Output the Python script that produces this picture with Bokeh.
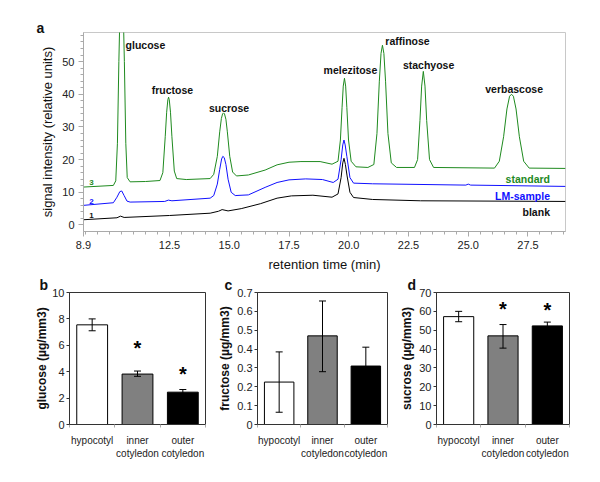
from bokeh.plotting import figure
from bokeh.layouts import column, row
from bokeh.models import (ColumnDataSource, FixedTicker, Label, Whisker, TeeHead,
                          NumeralTickFormatter, Range1d, Title)
from bokeh.core.properties import value
from bokeh.embed import file_html
from bokeh.resources import INLINE

FONT = "Liberation Sans"

# ---------------- panel a: chromatograms ----------------
std_t = [8.90, 10.15, 10.25, 10.32, 10.38, 10.44, 10.49, 10.55, 10.61, 10.67, 10.73, 10.85,
         11.5, 12.10, 12.22, 12.32, 12.38, 12.43, 12.46, 12.49, 12.54, 12.60, 12.70, 12.80, 13.2,
         14.2, 14.35, 14.50, 14.60, 14.67, 14.72, 14.76, 14.80, 14.86, 14.92, 15.02, 15.14,
         15.30, 15.8, 16.5, 17.0, 17.5, 18.0, 18.8, 19.3, 19.55, 19.65, 19.72, 19.77, 19.82,
         19.87, 19.92, 19.99, 20.10, 20.30, 20.8, 21.05, 21.18, 21.28, 21.35, 21.41, 21.47,
         21.54, 21.64, 21.78, 22.0, 22.75, 22.88, 22.98, 23.05, 23.12, 23.19, 23.26, 23.38,
         23.55, 26.1, 26.30, 26.48, 26.62, 26.73, 26.81, 26.89, 27.00, 27.14, 27.32, 27.55, 29.07]
std_y = [11.6, 12.1, 13.5, 25, 50, 70, 76, 70, 50, 25, 14.5, 13.2,
         13.3, 13.6, 16, 27, 34.5, 38.3, 39.1, 38.3, 34.5, 27, 16.5, 14.2, 13.9,
         14.2, 15.5, 21, 28.5, 32.6, 34.0, 34.3, 34.0, 32.3, 28.5, 21, 16.2,
         15.0, 15.3, 16.8, 18.4, 19.2, 19.4, 19.4, 18.6, 19.5, 26, 36, 42.5, 44.9,
         42.5, 36, 26, 19.5, 17.8, 17.6, 18.5, 28, 44, 52.5, 55, 52.5,
         44, 28, 19, 17.6, 17.6, 20, 32, 42.5, 47, 42.5, 32, 20,
         17.6, 17.4, 19.5, 27, 35.5, 39.4, 40, 39.4, 35.5, 27, 19.5, 17.4, 17.3]

lm_t = [8.90, 10.15, 10.30, 10.42, 10.50, 10.60, 10.72, 10.85, 12.3, 12.45, 12.6, 14.2,
        14.35, 14.50, 14.60, 14.68, 14.73, 14.79, 14.86, 14.95, 15.08, 15.25, 15.8, 16.5,
        17.0, 17.5, 18.2, 18.9, 19.35, 19.55, 19.68, 19.75, 19.80, 19.85, 19.92, 20.05,
        20.20, 21.0, 24.9, 25.0, 25.1, 29.07]
lm_y = [6.0, 6.8, 8.5, 10.2, 10.4, 9.0, 7.3, 7.0, 7.2, 7.6, 7.4, 8.2,
        9.0, 12.5, 17.0, 20.2, 21.0, 20.6, 18.5, 14, 10.0, 9.0, 9.2, 11.5,
        13.0, 13.8, 14.1, 13.9, 13.0, 14.0, 20, 24.5, 26.0, 24.5, 21, 14.5,
        12.8, 12.6, 12.2, 12.5, 12.2, 11.8]

blank_t = [8.90, 10.3, 10.45, 10.6, 12.5, 14.2, 14.55, 14.7, 14.95, 15.5, 16.3, 17.0,
           17.6, 18.5, 19.3, 19.55, 19.68, 19.75, 19.80, 19.86, 19.93, 20.05, 20.20, 21.0,
           23.0, 29.07]
blank_y = [1.6, 2.2, 2.7, 2.3, 2.9, 3.6, 4.2, 4.7, 4.3, 5.0, 6.5, 8.2,
           8.9, 9.1, 8.5, 9.5, 14.5, 19.0, 20.4, 18.5, 15, 10, 8.4, 7.8,
           7.4, 7.2]

peak_names = ["glucose", "fructose", "sucrose", "melezitose", "raffinose", "stachyose", "verbascose"]
xtick_vals = [8.9, 12.5, 15.0, 17.5, 20.0, 22.5, 25.0, 27.5]
ytick_vals = [0, 10, 20, 30, 40, 50]

# ---------------- panels b-d: bar charts ----------------
categories = ["hypocotyl", "inner\ncotyledon", "outer\ncotyledon"]
bar_colors = ["white", "#808080", "black"]
glucose = [7.55, 3.82, 2.45]
glucose_lo = [7.1, 3.65, 2.25]
glucose_hi = [8.0, 4.05, 2.65]
glucose_star = [None, 5.8, 3.85]
fructose = [0.225, 0.47, 0.31]
fructose_lo = [0.065, 0.28, 0.21]
fructose_hi = [0.385, 0.655, 0.41]
sucrose = [57.2, 47.0, 52.3]
sucrose_lo = [54.5, 40.5, 50.5]
sucrose_hi = [60.0, 53.0, 54.3]
sucrose_star = [None, 61.5, 60.5]

GREEN = "#1f8a1f"
BLUE = "#1010ff"


def panel_letter(p, letter, offset, standoff):
    p.add_layout(Title(text=letter, align="left", offset=offset, standoff=standoff,
                       text_font=FONT, text_font_size="14px", text_font_style="bold",
                       text_color="#111111"), "above")


pa = figure(width=592, height=274, x_range=Range1d(8.9, 29.07), y_range=Range1d(-2.0, 58.9),
            output_backend="svg", toolbar_location=None,
            min_border_left=83, min_border_right=27, min_border_top=32, min_border_bottom=42)
pa.grid.visible = False
pa.outline_line_color = "#c8c8c8"
pa.line(blank_t, blank_y, color="black", line_width=1)
pa.line(lm_t, lm_y, color=BLUE, line_width=1)
pa.line(std_t, std_y, color=GREEN, line_width=1)

for ax in (pa.xaxis[0], pa.yaxis[0]):
    ax.axis_line_color = "#aaaaaa"
    ax.major_tick_line_color = "#aaaaaa"
    ax.minor_tick_line_color = "#aaaaaa"
    ax.major_tick_in = 0
    ax.minor_tick_in = 0
    ax.major_tick_out = 5
    ax.minor_tick_out = 3
    ax.major_label_text_font = FONT
    ax.major_label_text_font_size = "11px"
    ax.major_label_text_color = "#222222"
    ax.axis_label_text_font = FONT
    ax.axis_label_text_font_size = "13px"
    ax.axis_label_text_font_style = "normal"
    ax.axis_label_text_color = "#111111"
pa.xaxis.ticker = FixedTicker(ticks=xtick_vals, minor_ticks=[9.0 + 0.5 * i for i in range(41)])
pa.xaxis.formatter = NumeralTickFormatter(format="0.0")
pa.yaxis.ticker = FixedTicker(ticks=ytick_vals, minor_ticks=[2 * i for i in range(30)])
pa.xaxis.major_label_standoff = 4
pa.yaxis.major_label_standoff = 4
pa.xaxis.axis_label = "retention time (min)"
pa.yaxis.axis_label = "signal intensity (relative units)"
pa.xaxis.axis_label_standoff = 5
pa.yaxis.axis_label_standoff = 4
panel_letter(pa, "a", -47, -7)

# peak labels
peak_lx = [10.66, 12.62, 14.99, 20.07, 22.46, 23.34, 26.92]
peak_ly = [55.0, 41.2, 35.7, 47.3, 56.3, 48.9, 41.5]
peak_align = ["left", "center", "center", "center", "center", "center", "center"]
for name, lx, ly, al in zip(peak_names, peak_lx, peak_ly, peak_align):
    pa.add_layout(Label(x=lx, y=ly, text=name, text_font=FONT, text_font_size="10.5px",
                        text_font_style="bold", text_align=al, text_baseline="middle",
                        text_color="#111111"))
for txt, ly, col in [("standard", 14.1, GREEN), ("LM-sample", 8.9, BLUE), ("blank", 4.1, "#111111")]:
    pa.add_layout(Label(x=28.42, y=ly, text=txt, text_font=FONT, text_font_size="10.5px",
                        text_font_style="bold", text_align="right", text_baseline="middle",
                        text_color=col))
for txt, ly, col in [("3", 12.9, GREEN), ("2", 7.1, BLUE), ("1", 2.8, "#111111")]:
    pa.add_layout(Label(x=9.23, y=ly, text=txt, text_font=FONT, text_font_size="8px",
                        text_font_style="bold", text_align="center", text_baseline="middle",
                        text_color=col))


def bar_panel(vals, lo, hi, stars, ymax, yticks, fmt, ylabel, letter, loff, lstand,
              width, left, right, title_standoff):
    p = figure(width=width, height=195, x_range=Range1d(0.5, 3.5), y_range=Range1d(0, ymax),
               output_backend="svg", toolbar_location=None,
               min_border_left=left, min_border_right=right, min_border_top=18,
               min_border_bottom=45)
    p.grid.visible = False
    p.outline_line_color = "#333333"
    xs = [1, 2, 3]
    src = ColumnDataSource(dict(x=xs, top=vals, lo=lo, hi=hi, color=bar_colors))
    p.vbar(x="x", top="top", width=0.68, fill_color="color", line_color="black",
           line_width=1, source=src)
    w = Whisker(base="x", upper="hi", lower="lo", source=src, line_color="black",
                line_width=1, level="overlay",
                upper_head=TeeHead(size=7, line_color="black", line_width=1),
                lower_head=TeeHead(size=7, line_color="black", line_width=1))
    p.add_layout(w)
    if stars is not None:
        sx = [x for x, s in zip(xs, stars) if s is not None]
        sy = [s for s in stars if s is not None]
        p.text(x=sx, y=sy, text=["*"] * len(sx), text_font=value(FONT),
               text_font_size="20px", text_font_style="bold", text_align="center",
               text_baseline="middle", text_color="black")
    for ax in (p.xaxis[0], p.yaxis[0]):
        ax.axis_line_color = "#333333"
        ax.major_label_text_font = FONT
        ax.major_label_text_color = "#222222"
        ax.axis_label_text_font = FONT
        ax.axis_label_text_color = "#111111"
    p.yaxis.ticker = FixedTicker(ticks=yticks, minor_ticks=[])
    p.yaxis.formatter = NumeralTickFormatter(format=fmt)
    p.yaxis.major_tick_in = 0
    p.yaxis.major_tick_out = 3
    p.yaxis.major_tick_line_color = "#333333"
    p.yaxis.major_label_text_font_size = "11px"
    p.yaxis.major_label_standoff = 2
    p.yaxis.axis_label = ylabel
    p.yaxis.axis_label_text_font_size = "12px"
    p.yaxis.axis_label_text_font_style = "bold"
    p.yaxis.axis_label_standoff = title_standoff
    p.xaxis.ticker = FixedTicker(ticks=xs, minor_ticks=[0.5, 1.5, 2.5, 3.5])
    p.xaxis.major_label_overrides = {x: c for x, c in zip(xs, categories)}
    p.xaxis.major_tick_line_color = None
    p.xaxis.minor_tick_in = 0
    p.xaxis.minor_tick_out = 3
    p.xaxis.minor_tick_line_color = "#aaaaaa"
    p.xaxis.major_label_text_font_size = "10px"
    p.xaxis.major_label_standoff = 4
    panel_letter(p, letter, loff, lstand)
    return p


pb = bar_panel(glucose, glucose_lo, glucose_hi, glucose_star, 10, [0, 2, 4, 6, 8, 10], "0",
               "glucose (µg/mm3)", "b", -30, 0, 214, 69, 9, 0)
pc = bar_panel(fructose, fructose_lo, fructose_hi, None, 0.7,
               [0, 0.1, 0.2, 0.3, 0.4, 0.5, 0.6, 0.7], "0[.]0",
               "fructose (µg/mm3)", "c", -33, 0, 180, 43, 7, 2)
pd = bar_panel(sucrose, sucrose_lo, sucrose_hi, sucrose_star, 70,
               [0, 10, 20, 30, 40, 50, 60, 70], "0",
               "sucrose (µg/mm3)", "d", -29, 0, 190, 42, 15, 2)

layout = column(pa, row(pb, pc, pd))
open("out.html", "w").write(file_html(layout, INLINE))
